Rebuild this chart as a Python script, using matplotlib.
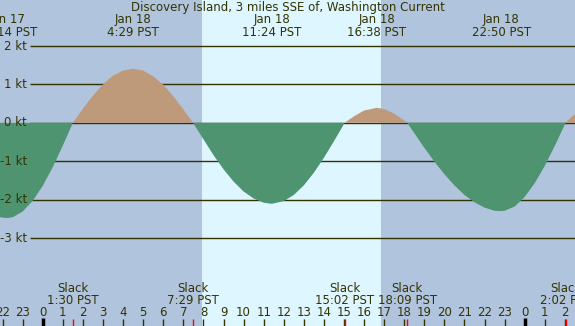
import matplotlib
matplotlib.use("Agg")
import matplotlib.pyplot as plt
import matplotlib.transforms as mtransforms

# ---- data ----
title = "Discovery Island, 3 miles SSE of, Washington Current"
# curve samples: hours relative to Jan 18 00:00 PST, current in knots
hours = [-2.2, -2.0, -1.767, -1.5, -1.0, -0.5, 0.0, 0.5, 1.0, 1.5,
         2.0, 2.5, 3.0, 3.5, 4.0, 4.483, 5.0, 5.5, 6.0, 6.5, 7.0, 7.483,
         8.0, 8.5, 9.0, 9.5, 10.0, 10.5, 11.0, 11.4, 12.0, 12.5, 13.0, 13.5,
         14.0, 14.5, 15.0, 15.033, 15.5, 16.0, 16.633, 17.0, 17.5, 18.0, 18.15,
         18.5, 19.0, 19.5, 20.0, 20.5, 21.0, 21.5, 22.0, 22.5, 22.833, 23.0,
         23.5, 24.0, 24.5, 25.0, 25.5, 26.0, 26.033, 26.3, 26.6]
knots = [-2.45, -2.47, -2.48, -2.46, -2.31, -2.03, -1.64, -1.15, -0.59, 0.0,
         0.37, 0.71, 1.00, 1.23, 1.36, 1.41, 1.36, 1.21, 0.99, 0.69, 0.35, 0.0,
         -0.43, -0.84, -1.21, -1.53, -1.79, -1.97, -2.08, -2.11, -2.04, -1.88, -1.63, -1.30,
         -0.91, -0.48, -0.03, 0.0, 0.17, 0.32, 0.39, 0.36, 0.24, 0.06, 0.0,
         -0.27, -0.65, -1.01, -1.34, -1.63, -1.88, -2.07, -2.21, -2.29, -2.30, -2.29,
         -2.18, -1.93, -1.57, -1.12, -0.60, -0.04, 0.0, 0.14, 0.27]

max_hours = [-1.767, 4.483, 11.4, 16.633, 22.833]
max_dates = ["Jan 17", "Jan 18", "Jan 18", "Jan 18", "Jan 18"]
max_times = ["22:14 PST", "4:29 PST", "11:24 PST", "16:38 PST", "22:50 PST"]

slack_hours = [1.5, 7.483, 15.033, 18.15, 26.033]
slack_times = ["1:30 PST", "7:29 PST", "15:02 PST", "18:09 PST", "2:02 PST"]

sunrise, sunset = 7.93, 16.84
grid_kt = [2, 1, 0, -1, -2, -3]
hour_ticks = list(range(-2, 27))

# ---- style ----
W, H = 575, 326
night = "#B0C4DE"
day = "#DEF6FF"
flood = "#BF9A7A"
ebb = "#4F9470"
ink = "#333300"
px_per_h = 20.08
x0_px = 42.8
px_per_kt = 38.4
y0_px = 122.8

fig = plt.figure(figsize=(W / 100, H / 100), dpi=100)
ax = fig.add_axes([0, 0, 1, 1])
ax.set_xlim(-x0_px / px_per_h, (W - x0_px) / px_per_h)
ax.set_ylim(-(H - y0_px) / px_per_kt, y0_px / px_per_kt)
ax.axis("off")
ax.set_facecolor(night)
fig.patch.set_facecolor(night)
ax.axvspan(sunrise, sunset, color=day, zorder=0, lw=0)

fs = 8.5
font = dict(family="DejaVu Sans", fontsize=fs, color=ink)

# grid lines + labels
xl = ax.get_xlim()
label_x = xl[0] + 27 / px_per_h
line_x = xl[0] + 30 / px_per_h
for k in grid_kt:
    ax.plot([line_x, xl[1]], [k, k], color=ink, lw=1.0, zorder=1,
            solid_capstyle="butt")
    ax.text(label_x, k, f"{k} kt", ha="right", va="center", zorder=5, **font)

# current curve fills
ax.fill_between(hours, knots, 0, where=[v >= 0 for v in knots], interpolate=True,
                color=flood, lw=0, zorder=2)
ax.fill_between(hours, knots, 0, where=[v <= 0 for v in knots], interpolate=True,
                color=ebb, lw=0, zorder=3)

# pixel-y helper
def ypx(y):
    return 1 - y / H

blend = mtransforms.blended_transform_factory(ax.transData, fig.transFigure)

ax.text(0.5, ypx(7), title, transform=fig.transFigure, ha="center", va="center", **font)

for h, d, t in zip(max_hours, max_dates, max_times):
    ax.text(h, ypx(19), d, transform=blend, ha="center", va="center", **font)
    ax.text(h, ypx(32), t, transform=blend, ha="center", va="center", **font)

for h, t in zip(slack_hours, slack_times):
    ax.text(h, ypx(288), "Slack", transform=blend, ha="center", va="center", **font)
    ax.text(h, ypx(300), t, transform=blend, ha="center", va="center", **font)

for h in hour_ticks:
    ax.text(h, ypx(312), str(h % 24), transform=blend, ha="center", va="center", **font)
    if h % 24 == 0:
        ax.plot([h, h], [ypx(318), 0], transform=blend, color="black", lw=2.5,
                solid_capstyle="butt", zorder=6)
    else:
        ax.plot([h, h], [ypx(319), 0], transform=blend, color=ink, lw=1.0,
                solid_capstyle="butt", zorder=6)

for h in slack_hours:
    ax.plot([h, h], [ypx(319), 0], transform=blend, color="red", lw=1.0,
            solid_capstyle="butt", zorder=7)

fig.savefig("out.png", dpi=100, facecolor=night)
